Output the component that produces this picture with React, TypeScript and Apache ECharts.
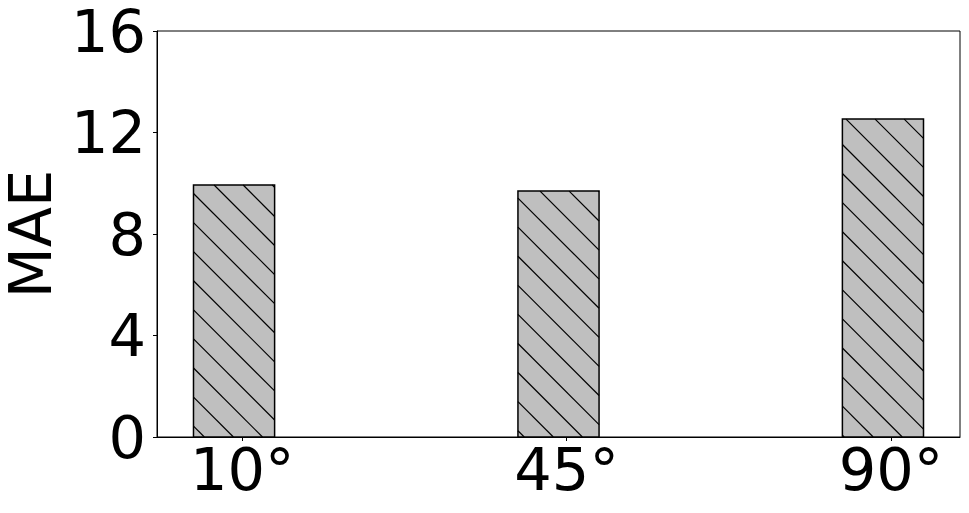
import React, { useEffect, useRef } from "react";
import * as echarts from "echarts";

const categories = ["10°", "45°", "90°"];
const positions = [0, 1, 2];
const maeValues = [9.93, 9.69, 12.53];
const yTicks = [0, 4, 8, 12, 16];

export default function App() {
  const ref = useRef<HTMLDivElement>(null);
  useEffect(() => {
    if (!ref.current) return;
    const chart = echarts.init(ref.current, null, { renderer: "svg" });
    const font = "DejaVu Sans";
    const barWidthUnits = 0.25;
    const barOffset = -0.025;
    const hatchSpacing = 29.08;
    const hatchPhase = 0;

    const renderItem = (params: any, api: any) => {
      const x = api.value(0) + barOffset;
      const y = api.value(1);
      const top = api.coord([x, y]);
      const bottom = api.coord([x, 0]);
      const w = api.size([barWidthUnits, 0])[0];
      const x0 = top[0] - w / 2;
      const x1 = top[0] + w / 2;
      const yt = top[1];
      const yb = bottom[1];
      const children: any[] = [
        {
          type: "rect",
          shape: { x: x0, y: yt, width: x1 - x0, height: yb - yt },
          style: { fill: "#bfbfbf", stroke: null },
        },
      ];
      const cMin = x0 - yb;
      const cMax = x1 - yt;
      let k = Math.ceil((cMin - hatchPhase) / hatchSpacing);
      for (; k * hatchSpacing + hatchPhase <= cMax; k++) {
        const c = k * hatchSpacing + hatchPhase;
        const lo = Math.max(yt, x0 - c);
        const hi = Math.min(yb, x1 - c);
        if (hi - lo > 0.5) {
          children.push({
            type: "line",
            shape: { x1: lo + c, y1: lo, x2: hi + c, y2: hi },
            style: { stroke: "#000", lineWidth: 1.2 },
          });
        }
      }
      children.push({
        type: "rect",
        shape: { x: x0, y: yt, width: x1 - x0, height: yb - yt },
        style: { fill: null, stroke: "#000", lineWidth: 1.5 },
      });
      return { type: "group", children };
    };

    chart.setOption({
      animation: false,
      backgroundColor: "#fff",
      grid: {
        left: 157,
        right: 9,
        top: 31,
        bottom: 76,
        containLabel: false,
        outerBoundsMode: "none",
        show: true,
        borderColor: "#000",
        borderWidth: 1,
        backgroundColor: "transparent",
      },
      xAxis: {
        type: "value",
        min: -0.2625,
        max: 2.2125,
        splitLine: { show: false },
        axisLine: { show: true, onZero: false, lineStyle: { color: "#000", width: 1 } },
        axisTick: {
          show: true,
          customValues: positions,
          length: 4,
          lineStyle: { color: "#000", width: 1 },
        },
        axisLabel: {
          customValues: positions,
          formatter: (v: number) => categories[Math.round(v)] ?? "",
          fontSize: 59,
          fontFamily: font,
          color: "#000",
          margin: 3,
        },
      },
      yAxis: {
        type: "value",
        min: yTicks[0],
        max: yTicks[yTicks.length - 1],
        interval: 4,
        name: "MAE",
        nameLocation: "middle",
        nameRotate: 90,
        nameGap: 83,
        nameTextStyle: { fontSize: 59, fontFamily: font, color: "#000" },
        splitLine: { show: false },
        axisLine: { show: true, onZero: false, lineStyle: { color: "#000", width: 1 } },
        axisTick: { show: true, length: 4, lineStyle: { color: "#000", width: 1 } },
        axisLabel: {
          fontSize: 59,
          fontFamily: font,
          color: "#000",
          margin: 11,
          padding: [3, 0, 0, 0],
        },
      },
      series: [
        {
          type: "custom",
          renderItem,
          clip: false,
          data: positions.map((p, i) => [p, maeValues[i]]),
          encode: { x: 0, y: 1 },
        },
      ],
    });
    return () => chart.dispose();
  }, []);
  return (
    <div
      ref={ref}
      style={{ position: "fixed", left: 0, top: 0, width: 969, height: 513, background: "#fff" }}
    />
  );
}
